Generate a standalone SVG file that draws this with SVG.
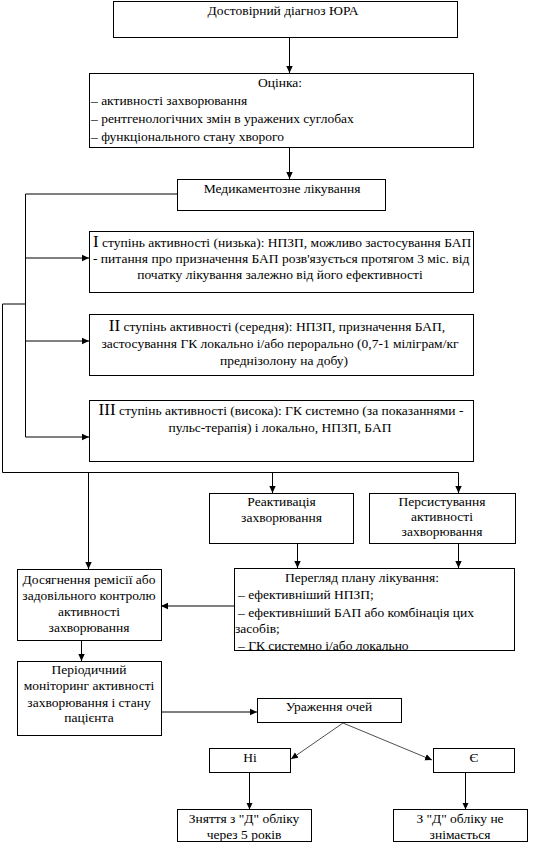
<svg xmlns="http://www.w3.org/2000/svg" width="538" height="842" viewBox="0 0 538 842">
<style>
rect{fill:#fff;stroke:#000;stroke-width:1}
text{font-family:"Liberation Serif","Times New Roman",serif;font-size:13.5px;fill:#000}
.m{text-anchor:middle}
.c{fill:none;stroke:#000;stroke-width:1}
.t{fill:none;stroke:#000;stroke-width:0.7}
.r{font-size:17px}
</style>
<defs>
<marker id="a" markerUnits="userSpaceOnUse" markerWidth="8" markerHeight="8" refX="7" refY="4" orient="auto"><path d="M0,0.8 L7,4 L0,7.2 Z" fill="#000"/></marker>
</defs>
<rect width="538" height="842" style="fill:#fff;stroke:none"/>
<g id="connectors">
<path class="c" d="M289.5,38 V73" marker-end="url(#a)"/>
<path class="c" d="M289.5,147 V179" marker-end="url(#a)"/>
<path class="c" d="M177,194 H25.5 V437"/>
<path class="c" d="M25.5,258 H89" marker-end="url(#a)"/>
<path class="c" d="M25.5,341 H89" marker-end="url(#a)"/>
<path class="c" d="M25.5,437 H89" marker-end="url(#a)"/>
<path class="c" d="M25.5,304 H2.5 V472.5 H458.5"/>
<path class="c" d="M88.5,472.5 V569" marker-end="url(#a)"/>
<path class="c" d="M272.5,472.5 V493" marker-end="url(#a)"/>
<path class="c" d="M458.5,472.5 V493" marker-end="url(#a)"/>
<path class="c" d="M297.5,543 V568" marker-end="url(#a)"/>
<path class="c" d="M458.5,543 V568" marker-end="url(#a)"/>
<path class="c" d="M234,606 H161" marker-end="url(#a)"/>
<path class="c" d="M81.5,640 V661" marker-end="url(#a)"/>
<path class="c" d="M161,712 H257" marker-end="url(#a)"/>
<path class="t" d="M343,723 L291,759" marker-end="url(#a)"/>
<path class="t" d="M343,723 L432,760" marker-end="url(#a)"/>
<path class="c" d="M249.5,772.5 V809.5" marker-end="url(#a)"/>
<path class="c" d="M465.5,772.5 V809.5" marker-end="url(#a)"/>
</g>
<g id="n1"><rect x="113.5" y="1.5" width="344" height="36"/><text class="m" x="283" y="15">Достовірний діагноз ЮРА</text></g>
<g id="n2"><rect x="89.5" y="73.5" width="384" height="74"/>
<text class="m" x="280" y="87">Оцінка:</text>
<text x="91" y="105">– активності захворювання</text>
<text x="91" y="122.5">– рентгенологічних змін в уражених суглобах</text>
<text x="91" y="141">– функціонального стану хворого</text></g>
<g id="n3"><rect x="177.5" y="179.5" width="208" height="31"/><text class="m" x="282" y="193">Медикаментозне лікування</text></g>
<g id="n4"><rect x="89.5" y="231.5" width="384" height="61"/>
<text x="93" y="247"><tspan class="r">I</tspan> ступінь активності (низька): НПЗП, можливо застосування БАП</text>
<text x="93" y="263">- питання про призначення БАП розв'язується протягом 3 міс. від</text>
<text class="m" x="280" y="278.5">початку лікування залежно від його ефективності</text></g>
<g id="n5"><rect x="89.5" y="314.5" width="384" height="61"/>
<text class="m" x="277" y="331"><tspan class="r">II</tspan> ступінь активності (середня): НПЗП, призначення БАП,</text>
<text class="m" x="280" y="348">застосування ГК локально і/або перорально (0,7-1 міліграм/кг</text>
<text class="m" x="284" y="365">преднізолону на добу)</text></g>
<g id="n6"><rect x="89.5" y="400.5" width="384" height="61"/>
<text class="m" x="281" y="415"><tspan class="r">III</tspan>  ступінь активності (висока): ГК системно (за показаннями -</text>
<text class="m" x="280" y="432">пульс-терапія) і локально, НПЗП, БАП</text></g>
<g id="n7"><rect x="209.5" y="493.5" width="144" height="50"/>
<text class="m" x="281.5" y="506">Реактивація</text>
<text class="m" x="281.5" y="522">захворювання</text></g>
<g id="n8"><rect x="369.5" y="493.5" width="146" height="50"/>
<text class="m" x="442" y="506">Персистування</text>
<text class="m" x="442" y="521">активності</text>
<text class="m" x="442" y="536">захворювання</text></g>
<g id="n9"><rect x="234.5" y="568.5" width="280" height="82"/>
<text class="m" x="362" y="582">Перегляд плану лікування:</text>
<text x="238" y="599">– ефективніший НПЗП;</text>
<text x="238" y="617">– ефективніший БАП або комбінація цих</text>
<text x="235" y="633">засобів;</text>
<text x="238" y="650">– ГК системно і/або локально</text></g>
<g id="n10"><rect x="17.5" y="569.5" width="144" height="71"/>
<text class="m" x="89" y="583.5">Досягнення ремісії або</text>
<text class="m" x="89" y="600">задовільного контролю</text>
<text class="m" x="89" y="616">активності</text>
<text class="m" x="89" y="631.5">захворювання</text></g>
<g id="n11"><rect x="17.5" y="661.5" width="144" height="74"/>
<text class="m" x="89" y="674">Періодичний</text>
<text class="m" x="89" y="690">моніторинг активності</text>
<text class="m" x="89" y="706.5">захворювання і стану</text>
<text class="m" x="89" y="722">пацієнта</text></g>
<g id="n12"><rect x="257.5" y="698.5" width="144" height="24"/><text class="m" x="329" y="711">Ураження очей</text></g>
<g id="n13"><rect x="209.5" y="748.5" width="81" height="24"/><text class="m" x="250" y="761.5">Ні</text></g>
<g id="n14"><rect x="433.5" y="748.5" width="81" height="24"/><text class="m" x="474" y="761.5">Є</text></g>
<g id="n15"><rect x="177.5" y="809.5" width="134" height="32"/>
<text class="m" x="244" y="823">Зняття з "Д" обліку</text>
<text class="m" x="244" y="838.5">через 5 років</text></g>
<g id="n16"><rect x="393.5" y="809.5" width="134" height="32"/>
<text class="m" x="460" y="823">З "Д" обліку не</text>
<text class="m" x="460" y="838.5">знімається</text></g>
</svg>
